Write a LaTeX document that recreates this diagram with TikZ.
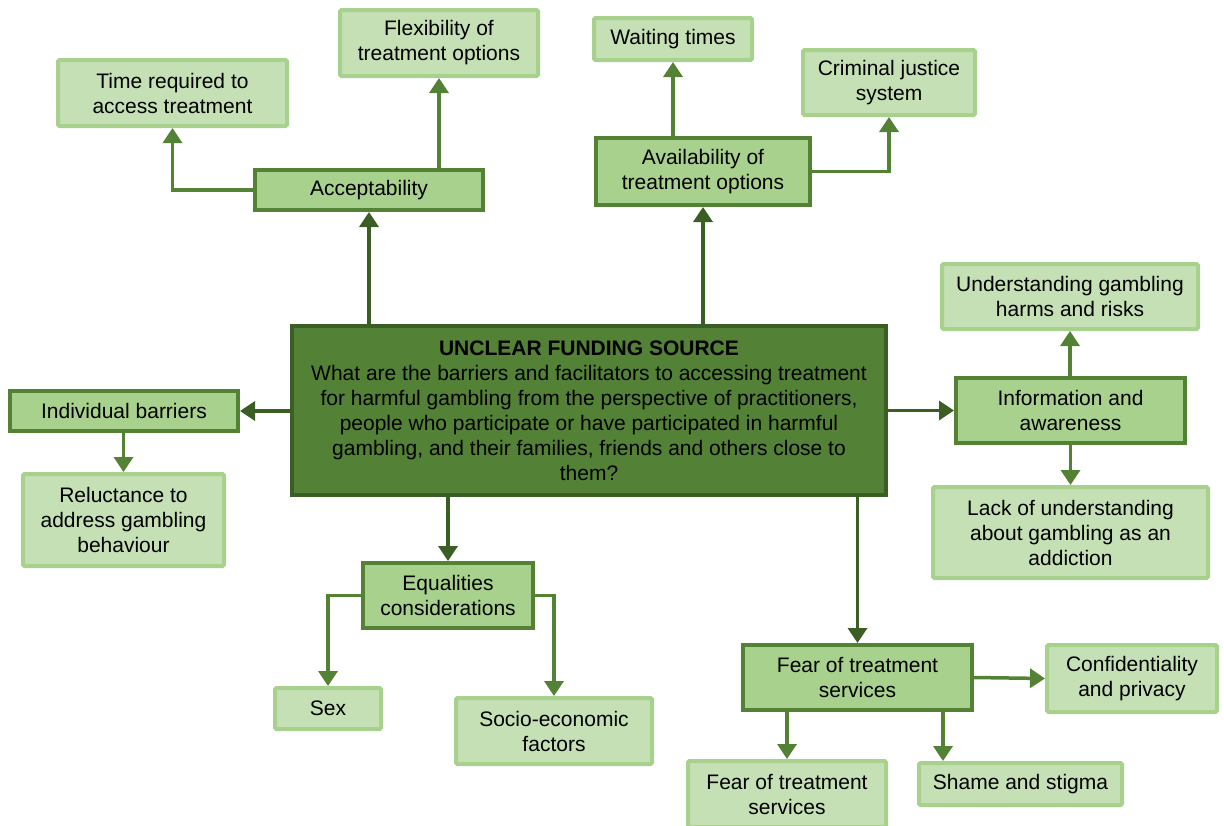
\documentclass[tikz,border=0pt]{standalone}
\usepackage{fontspec}
\setmainfont{Liberation Sans}
\usetikzlibrary{arrows.meta}
\definecolor{cdark}{HTML}{538135}
\definecolor{cdarkb}{HTML}{3B5E25}
\definecolor{cmid}{HTML}{A9D18E}
\definecolor{cmidb}{HTML}{548235}
\definecolor{clight}{HTML}{C5E0B4}
\definecolor{clightb}{HTML}{A9D18E}
\tikzset{
  base/.style={rectangle, inner sep=0pt, align=center, font=\fontsize{21}{25}\selectfont, text=black},
  centre/.style={base, fill=cdark, draw=cdarkb, line width=4.5pt},
  lvone/.style={base, fill=cmid, draw=cmidb, line width=4pt},
  lvtwo/.style={base, fill=clight, draw=clightb, line width=4pt, rounded corners=1.5pt},
  tip/.tip={Triangle[width=19pt,length=15pt]},
  arrd/.style={draw=cdarkb, line width=3.5pt, -tip},
  arrm/.style={draw=cmidb, line width=3.5pt, -tip},
}
\begin{document}
\begin{tikzpicture}[x=1pt,y=-1pt]
\useasboundingbox (0,0) rectangle (1224,825);
% central
\node[centre, minimum width=594pt, minimum height=169pt] (c) at (589,410.5)
 {\textbf{UNCLEAR FUNDING SOURCE}\\What are the barriers and facilitators to accessing treatment\\for harmful gambling from the perspective of practitioners,\\people who participate or have participated in harmful\\gambling, and their families, friends and others close to\\them?};
% level one
\node[lvone, minimum width=228pt, minimum height=40pt] (acc) at (369,190) {Acceptability};
\node[lvone, minimum width=214pt, minimum height=67pt] (avail) at (703,171.5) {Availability of\\treatment options};
\node[lvone, minimum width=229pt, minimum height=65pt] (info) at (1070.5,410.5) {Information and\\awareness};
\node[lvone, minimum width=228pt, minimum height=40pt] (ind) at (124,411) {Individual barriers};
\node[lvone, minimum width=170pt, minimum height=65pt] (eq) at (448,595.5) {Equalities\\considerations};
\node[lvone, minimum width=229pt, minimum height=65pt] (fear) at (857.5,677.5) {Fear of treatment\\services};
% level two
\node[lvtwo, minimum width=229pt, minimum height=66pt] (time) at (172.5,93) {Time required to\\access treatment};
\node[lvtwo, minimum width=198pt, minimum height=66pt] (flex) at (439,43) {Flexibility of\\treatment options};
\node[lvtwo, minimum width=158pt, minimum height=42pt] (wait) at (673,39) {Waiting times};
\node[lvtwo, minimum width=172pt, minimum height=65pt] (crim) at (889,82.5) {Criminal justice\\system};
\node[lvtwo, minimum width=256pt, minimum height=65pt] (und) at (1070,296.5) {Understanding gambling\\harms and risks};
\node[lvtwo, minimum width=275pt, minimum height=91pt] (lack) at (1070.5,532.5) {Lack of understanding\\about gambling as an\\addiction};
\node[lvtwo, minimum width=201pt, minimum height=92pt] (rel) at (123.5,520) {Reluctance to\\address gambling\\behaviour};
\node[lvtwo, minimum width=106pt, minimum height=41pt] (sex) at (328,708.5) {Sex};
\node[lvtwo, minimum width=196pt, minimum height=66pt] (soc) at (554,731) {Socio-economic\\factors};
\node[lvtwo, minimum width=170pt, minimum height=67pt] (conf) at (1132,678.5) {Confidentiality\\and privacy};
\node[lvtwo, minimum width=198pt, minimum height=66pt] (fearb) at (787,794) {Fear of treatment\\services};
\node[lvtwo, minimum width=203pt, minimum height=42pt] (shame) at (1020.5,784) {Shame and stigma};
% connectors from centre
\draw[arrd] (acc.south |- c.north) -- (acc.south);
\draw[arrd] (avail.south |- c.north) -- (avail.south);
\draw[arrd] (c.east |- info.west) -- (info.west);
\draw[arrd] (c.west |- ind.east) -- (ind.east);
\draw[arrd] (eq.north |- c.south) -- (eq.north);
\draw[arrd] (fear.north |- c.south) -- (fear.north);
% connectors from level one
\draw[arrm] (acc.west) -| (time.south);
\draw[arrm] (flex.south |- acc.north) -- (flex.south);
\draw[arrm] (wait.south |- avail.north) -- (wait.south);
\draw[arrm] (avail.east) -| (crim.south);
\draw[arrm] (und.south |- info.north) -- (und.south);
\draw[arrm] (lack.north |- info.south) -- (lack.north);
\draw[arrm] (rel.north |- ind.south) -- (rel.north);
\draw[arrm] (eq.west) -| (sex.north);
\draw[arrm] (eq.east) -| (soc.north);
\draw[arrm] (fear.east) -- (conf.west);
\draw[arrm] (fearb.north |- fear.south) -- (fearb.north);
\draw[arrm] ([xshift=-31pt]fear.south east) -- ([xshift=-31pt]fear.south east |- shame.north);
\end{tikzpicture}
\end{document}
